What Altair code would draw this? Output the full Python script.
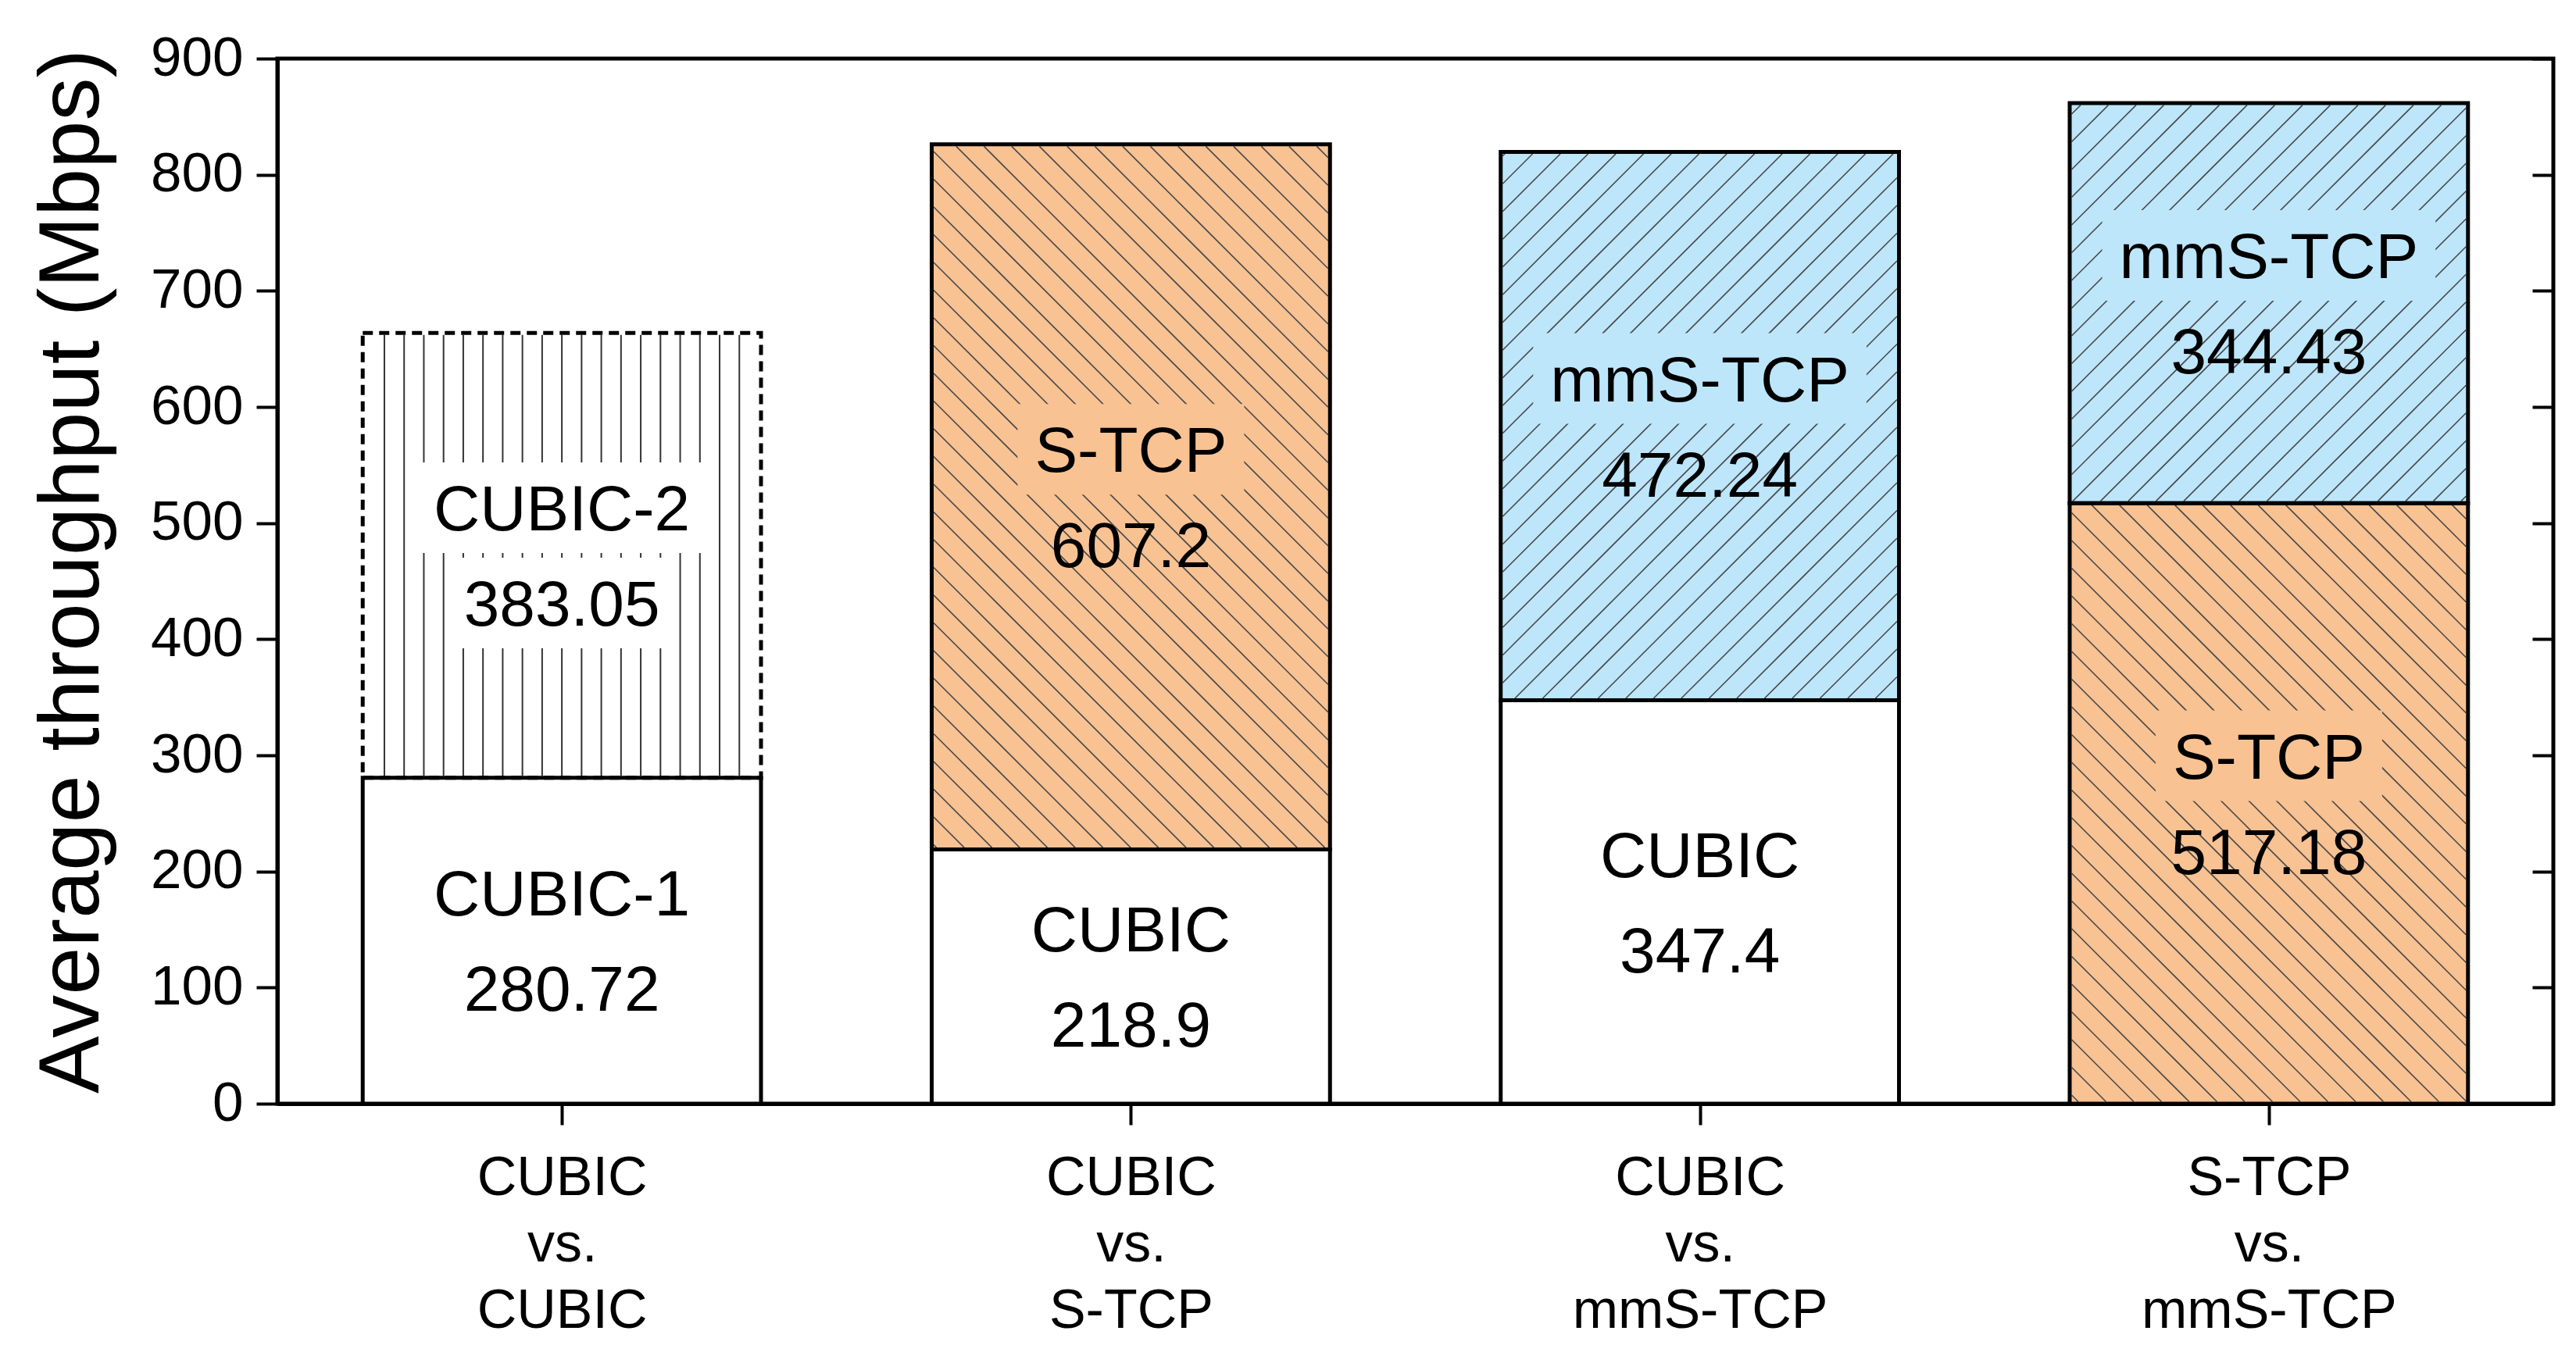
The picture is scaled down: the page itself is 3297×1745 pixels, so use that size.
import json
import altair as alt
import pandas as pd

# ---------------- data ----------------
pair_lines = [
    ["CUBIC", "vs.", "CUBIC"],
    ["CUBIC", "vs.", "S-TCP"],
    ["CUBIC", "vs.", "mmS-TCP"],
    ["S-TCP", "vs.", "mmS-TCP"],
]
bottom_flows = ["CUBIC-1", "CUBIC", "CUBIC", "S-TCP"]
bottom_values = [280.72, 218.9, 347.4, 517.18]
top_flows = ["CUBIC-2", "S-TCP", "mmS-TCP", "mmS-TCP"]
top_values = [383.05, 607.2, 472.24, 344.43]
y_ticks = [0, 100, 200, 300, 400, 500, 600, 700, 800, 900]
y_title = "Average throughput (Mbps)"

# ---------------- styles ----------------
STYLE = {
    "CUBIC-1": {"fill": "#ffffff", "hatch": None, "dashed": False},
    "CUBIC": {"fill": "#ffffff", "hatch": None, "dashed": False},
    "CUBIC-2": {"fill": "#ffffff", "hatch": "|", "dashed": True},
    "S-TCP": {"fill": "#F8C293", "hatch": "\\", "dashed": False},
    "mmS-TCP": {"fill": "#BDE6FB", "hatch": "/", "dashed": False},
}
FONT = "Liberation Sans"
W, H = 2913, 1338
X0, X1 = -0.5, 3.5
Y0, Y1 = 0, 900
BAR = 0.7
SX = W / (X1 - X0)
SY = H / (Y1 - Y0)
LABEL_FS = 82
LINE_OFF = 61          # px from segment centre to each label line
HATCH_STEP = 35.5      # px horizontal spacing of diagonal hatch
INSET = 2.5
CHAR_W = {"C": .722, "U": .722, "B": .667, "I": .278, "-": .333, ".": .278,
          "S": .667, "T": .611, "P": .667, "m": .833}


def text_w(s):
    return sum(CHAR_W.get(c, .556) for c in s) * LABEL_FS


def fmt(v):
    return ("%.2f" % v).rstrip("0").rstrip(".")


# ---------------- derived tables ----------------
segs, hatch, boxes, texts = [], [], [], []
for i in range(len(pair_lines)):
    parts = [(bottom_flows[i], 0.0, bottom_values[i], bottom_values[i]),
             (top_flows[i], bottom_values[i], bottom_values[i] + top_values[i], top_values[i])]
    for flow, ya, yb, val in parts:
        st = STYLE[flow]
        segs.append({"x0": i - BAR / 2, "x1": i + BAR / 2, "y0": ya, "y1": yb,
                     "fill": st["fill"], "dashed": st["dashed"]})
        L = (i - BAR / 2 - X0) * SX + INSET
        R = (i + BAR / 2 - X0) * SX - INSET
        B = (ya - Y0) * SY + INSET
        T = (yb - Y0) * SY - INSET
        lines = []
        if st["hatch"] == "|":
            n = 20
            for k in range(1, n):
                x = L + k * (R - L) / n
                lines.append((x, B, x, T, "v"))
        elif st["hatch"] in ("/", "\\"):
            if st["hatch"] == "/":
                k0, k1 = int((B - R) // HATCH_STEP) - 1, int((T - L) // HATCH_STEP) + 2
            else:
                k0, k1 = int((L + B) // HATCH_STEP) - 1, int((R + T) // HATCH_STEP) + 2
            for k in range(k0, k1):
                c = k * HATCH_STEP
                if st["hatch"] == "/":
                    xa, xb = max(L, B - c), min(R, T - c)
                    if xb - xa > 0.5:
                        lines.append((xa, xa + c, xb, xb + c, "d"))
                else:
                    xa, xb = max(L, c - T), min(R, c - B)
                    if xb - xa > 0.5:
                        lines.append((xa, c - xa, xb, c - xb, "d"))
        for (ax, ay, bx, by, kind) in lines:
            hatch.append({"x": ax / SX + X0, "y": ay / SY + Y0,
                          "x2": bx / SX + X0, "y2": by / SY + Y0, "kind": kind})
        mid = (ya + yb) / 2
        for txt, off, boxed in [(flow, LINE_OFF, True),
                                (fmt(val), -LINE_OFF, st["hatch"] == "|")]:
            yc = mid + off / SY
            texts.append({"x": i, "y": yc, "text": txt})
            if boxed and st["hatch"] is not None:
                hw = (text_w(txt) + 44) / 2 / SX
                hh = 58 / SY
                boxes.append({"x0": i - hw, "x1": i + hw, "y0": yc - hh, "y1": yc + hh,
                              "fill": st["fill"]})

seg_df = pd.DataFrame(segs)
hatch_df = pd.DataFrame(hatch)
box_df = pd.DataFrame(boxes)
text_df = pd.DataFrame(texts)

xs = alt.Scale(domain=[X0, X1], nice=False, zero=False)
ys = alt.Scale(domain=[Y0, Y1], nice=False, zero=True)

# label expression: ternary chain returning an array of lines per category
expr = "''"
for idx in reversed(range(len(pair_lines))):
    arr = "[" + ", ".join("'" + s + "'" for s in pair_lines[idx]) + "]"
    expr = "datum.value == %d ? %s : (%s)" % (idx, arr, expr)

x_axis = alt.Axis(values=list(range(len(pair_lines))), labelExpr=expr, title=None,
                  grid=False, tickSize=27, tickWidth=4, tickColor="black",
                  domainWidth=5, domainColor="black", labelFontSize=70, labelFont=FONT,
                  labelColor="black", labelLineHeight=85, labelPadding=34, labelLimit=2000,
                  labelFlush=False, labelOverlap=False, labelBaseline="top", labelAlign="center",
                  orient="bottom")
y_axis = alt.Axis(values=y_ticks, orient="left", title=y_title, grid=False, tickSize=27,
                  tickWidth=4, tickColor="black", domainWidth=5, domainColor="black",
                  labelFontSize=71, labelFont=FONT, labelColor="black", labelPadding=17,
                  labelOverlap=False, labelFlush=False, format="d", labelLimit=1000,
                  titleFontSize=110, titleFont=FONT, titleFontWeight="normal", titleColor="black",
                  titleX=-263, titleY=656, titleAngle=270, titleAlign="center",
                  titleBaseline="middle", titleLimit=3000)
y_axis_right = alt.Axis(values=y_ticks, orient="right", offset=-27, domain=False, labels=False,
                        title=None, grid=False, tickSize=27, tickWidth=4, tickColor="black")

fills = alt.Chart(seg_df).mark_rect(strokeWidth=0).encode(
    x=alt.X("x0:Q", scale=xs, axis=x_axis), x2="x1:Q",
    y=alt.Y("y0:Q", scale=ys, axis=y_axis), y2="y1:Q",
    fill=alt.Fill("fill:N", scale=None))

hatch_diag = alt.Chart(hatch_df).transform_filter("datum.kind == 'd'").mark_rule(
    color="#4a4a4a", strokeWidth=1.6).encode(
    x=alt.X("x:Q", scale=xs, axis=None), x2="x2:Q",
    y=alt.Y("y:Q", scale=ys, axis=None), y2="y2:Q")

hatch_vert = alt.Chart(hatch_df).transform_filter("datum.kind == 'v'").mark_rule(
    color="#333333", strokeWidth=2).encode(
    x=alt.X("x:Q", scale=xs, axis=None), x2="x2:Q",
    y=alt.Y("y:Q", scale=ys, axis=None), y2="y2:Q")

box_layer = alt.Chart(box_df).mark_rect(strokeWidth=0).encode(
    x=alt.X("x0:Q", scale=xs, axis=None), x2="x1:Q",
    y=alt.Y("y0:Q", scale=ys, axis=None), y2="y1:Q",
    fill=alt.Fill("fill:N", scale=None))

text_layer = alt.Chart(text_df).mark_text(font=FONT, fontSize=LABEL_FS, color="black",
                                          baseline="alphabetic", align="center", dy=29).encode(
    x=alt.X("x:Q", scale=xs, axis=None),
    y=alt.Y("y:Q", scale=ys, axis=None),
    text="text:N")

dashed_border = alt.Chart(seg_df).transform_filter("datum.dashed").mark_rect(
    fillOpacity=0, stroke="black", strokeWidth=5, strokeDash=[13, 8]).encode(
    x=alt.X("x0:Q", scale=xs, axis=None), x2="x1:Q",
    y=alt.Y("y0:Q", scale=ys, axis=None), y2="y1:Q")

solid_border = alt.Chart(seg_df).transform_filter("!datum.dashed").mark_rect(
    fillOpacity=0, stroke="black", strokeWidth=5).encode(
    x=alt.X("x0:Q", scale=xs, axis=None), x2="x1:Q",
    y=alt.Y("y0:Q", scale=ys, axis=y_axis_right), y2="y1:Q")

chart = alt.layer(fills, hatch_diag, hatch_vert, box_layer, text_layer,
                  dashed_border, solid_border).resolve_axis(
    x="independent", y="independent").properties(
    width=W, height=H,
    autosize=alt.AutoSizeParams(type="none"),
    padding={"left": 347, "top": 67, "right": 20, "bottom": 310},
    background="white",
).configure_view(stroke="black", strokeWidth=5)

chart.save("out.html", embed_options={"renderer": "svg", "actions": False})
